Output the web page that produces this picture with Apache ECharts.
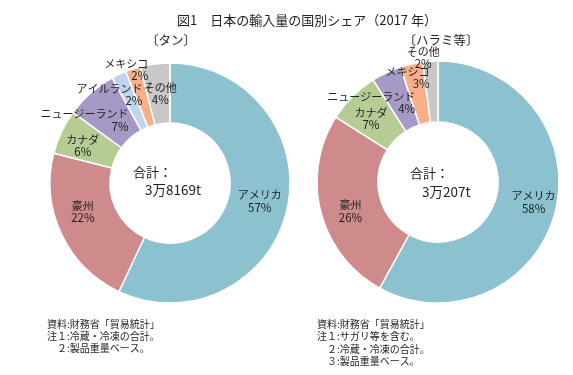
<!DOCTYPE html>
<html>
<head>
<meta charset="utf-8">
<script src="https://cdn.jsdelivr.net/npm/echarts@6/dist/echarts.min.js"></script>
<style>
  html, body { margin: 0; padding: 0; background: #fff; }
  #main { width: 573px; height: 375px; }
</style>
</head>
<body>
<div id="main"></div>
<script>
// 〔タン〕
var tanNames = ['アメリカ', '豪州', 'カナダ', 'ニュージーランド', 'アイルランド', 'メキシコ', 'その他'];
var tanShares = [57, 22, 6, 7, 2, 2, 4];
var tanTotal = '3万8169t';
var tanNotes = ['資料:財務省「貿易統計」', '注１:冷蔵・冷凍の合計。', '　２:製品重量ベース。'];

// 〔ハラミ等〕
var haramiNames = ['アメリカ', '豪州', 'カナダ', 'ニュージーランド', 'メキシコ', 'その他'];
var haramiShares = [58, 26, 7, 4, 3, 2];
var haramiTotal = '3万207t';
var haramiNotes = ['資料:財務省「貿易統計」', '注１:サガリ等を含む。', '　２:冷蔵・冷凍の合計。', '　３:製品重量ベース。'];

var colorMap = {
    'アメリカ': '#8cc2d0',
    '豪州': '#cf8b8b',
    'カナダ': '#b6cc94',
    'ニュージーランド': '#a699c5',
    'アイルランド': '#bfd5ee',
    'メキシコ': '#f7b08a',
    'その他': '#c8c8c8'
};

var FONT = '"Noto Sans CJK JP", sans-serif';

// ラベル位置の微調整 (dx, dy, 右寄せ)
var tanLabelAdj = [[-1, -2, 0], [-3, -11, 0], [-3, 2, 0], [-24, 7, 1], [-21, -4, 1], [-15, -25, 1], [2, 3, 0]];
var haramiLabelAdj = [[5, -3, 0], [3, 6, 0], [-1, 3, 0], [-27, 5, 1], [-10, -13, 1], [-9, -31, 0]];

function buildData(names, shares, adj) {
    return names.map(function (n, i) {
        return {
            name: n,
            value: shares[i],
            itemStyle: { color: colorMap[n] },
            label: {
                formatter: '{n|' + n + '}\n{' + (adj[i][2] ? 'pr' : 'p') + '|' + shares[i] + '%}'
            }
        };
    });
}

function buildSeries(names, shares, adj, center, radius) {
    return {
        type: 'pie',
        center: center,
        radius: radius,
        startAngle: 90,
        clockwise: true,
        avoidLabelOverlap: false,
        silent: true,
        itemStyle: { borderColor: '#fff', borderWidth: 1.5 },
        label: {
            show: true,
            position: 'inside',
            color: '#222',
            fontFamily: FONT,
            fontSize: 11,
            lineHeight: 12,
            rich: {
                n: { fontFamily: FONT, fontSize: 11, lineHeight: 12, color: '#222' },
                p: { fontFamily: FONT, fontSize: 11.5, lineHeight: 12, color: '#222' },
                pr: { fontFamily: FONT, fontSize: 11.5, lineHeight: 12, color: '#222', align: 'right' }
            }
        },
        labelLine: { show: false },
        labelLayout: function (params) {
            var a = adj[params.dataIndex];
            return { dx: a[0], dy: a[1] };
        },
        data: buildData(names, shares, adj)
    };
}

function textEl(text, x, y, size, align) {
    return {
        type: 'text',
        x: x,
        y: y,
        style: {
            text: text,
            font: size + 'px ' + FONT,
            fill: '#222',
            align: align || 'left',
            verticalAlign: 'middle'
        }
    };
}

var graphics = [
    textEl('図1　日本の輸入量の国別シェア（2017 年）', 177, 20, 13),
    textEl('〔タン〕', 171, 40, 12.5, 'center'),
    textEl('〔ハラミ等〕', 441, 40, 12.5, 'center'),
    textEl('合計：', 133, 172, 13),
    textEl(tanTotal, 145, 190, 13.5),
    textEl('合計：', 410, 173, 13),
    textEl(haramiTotal, 422, 192, 13.5)
];
tanNotes.forEach(function (s, i) {
    graphics.push(textEl(s, 47, 324 + i * 12, 10));
});
haramiNotes.forEach(function (s, i) {
    graphics.push(textEl(s, 317, 324 + i * 12.5, 10));
});

var myChart = echarts.init(document.getElementById('main'), null, { renderer: 'canvas' });

var option = {
    backgroundColor: '#fff',
    animation: false,
    graphic: graphics,
    series: [
        buildSeries(tanNames, tanShares, tanLabelAdj, [170, 183], [60, 120]),
        buildSeries(haramiNames, haramiShares, haramiLabelAdj, [438, 182], [60, 121])
    ]
};

myChart.setOption(option);
</script>
</body>
</html>
